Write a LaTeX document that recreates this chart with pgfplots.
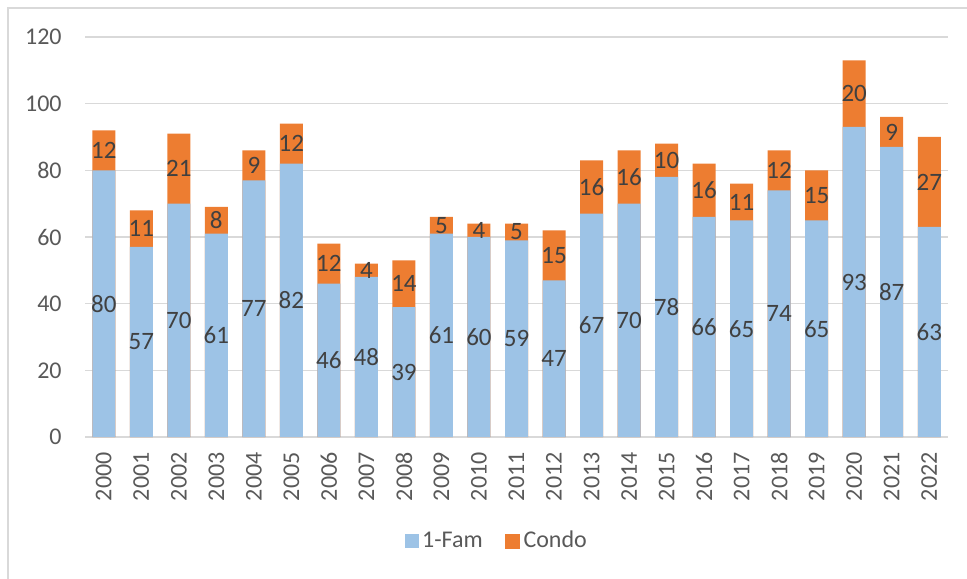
\documentclass[border=0pt]{standalone}
\usepackage{pgfplots}
\pgfplotsset{compat=1.18}
\usepackage{pgfplotstable}
\usepackage{fontspec}
\setmainfont{Carlito}
\definecolor{famblue}{HTML}{9DC3E6}
\definecolor{condoorange}{HTML}{ED7D31}
\definecolor{gridgray}{HTML}{D9D9D9}
\definecolor{ticktext}{HTML}{595959}
\definecolor{labeltext}{HTML}{404040}
\pgfplotstableread{
x year fam condo
0 2000 80 12
1 2001 57 11
2 2002 70 21
3 2003 61 8
4 2004 77 9
5 2005 82 12
6 2006 46 12
7 2007 48 4
8 2008 39 14
9 2009 61 5
10 2010 60 4
11 2011 59 5
12 2012 47 15
13 2013 67 16
14 2014 70 16
15 2015 78 10
16 2016 66 16
17 2017 65 11
18 2018 74 12
19 2019 65 15
20 2020 93 20
21 2021 87 9
22 2022 63 27
}\datatable
\begin{document}
\begin{tikzpicture}
\useasboundingbox (0,0) rectangle (483.5pt,289pt);
\draw[gridgray, line width=0.7pt] (4pt,-20pt) rectangle (520pt,285pt);
\begin{axis}[
  at={(42.5pt,70.5pt)}, anchor=south west,
  scale only axis, width=431.5pt, height=200pt,
  ybar, bar width=11.5pt, bar shift=0pt,
  xmin=-0.5, xmax=22.5, ymin=0, ymax=120,
  ytick={0,20,...,120},
  xtick=data, xticklabels from table={\datatable}{year},
  ymajorgrids, major grid style={gridgray, line width=0.7pt},
  axis line style={draw=none}, major tick length=0pt,
  tick label style={font=\fontsize{12}{14}\selectfont, text=ticktext},
  xticklabel style={rotate=90, anchor=east, inner sep=0pt},
  yticklabel style={anchor=east, inner sep=0pt},
  xticklabel shift=7.5pt, yticklabel shift=11.5pt,
  /pgf/number format/assume math mode=true,
  legend style={at={(0.478,-0.26)}, anchor=center, draw=none, fill=none,
    legend columns=-1, font=\fontsize{12}{14}\selectfont, text=ticktext,
    /tikz/every even column/.append style={column sep=9.5pt},
    nodes={inner sep=1.75pt}},
  legend image code/.code={\fill[#1] (0pt,-3.5pt) rectangle (7pt,3.5pt);},
]
\addplot[fill=condoorange, draw=none, bar shift=0pt, forget plot]
  table[x=x, y expr=\thisrow{fam}+\thisrow{condo}] {\datatable};
\addplot[fill=famblue, draw=none, bar shift=0pt,
  legend image code/.code={\fill[famblue] (0pt,-3.5pt) rectangle (7pt,3.5pt);}]
  table[x=x, y=fam] {\datatable};
\addlegendentry{1-Fam}
\addlegendimage{legend image code/.code={\fill[condoorange] (0pt,-3.5pt) rectangle (7pt,3.5pt);}}
\addlegendentry{Condo}
\addplot[draw=none, fill=none, bar shift=0pt, forget plot,
  nodes near coords, nodes near coords align=center, point meta=explicit,
  every node near coord/.append style={anchor=center, font=\fontsize{12.5}{14}\selectfont, text=labeltext}]
  table[x=x, y expr=\thisrow{fam}/2, meta=fam] {\datatable};
\addplot[draw=none, fill=none, bar shift=0pt, forget plot,
  nodes near coords, nodes near coords align=center, point meta=explicit,
  every node near coord/.append style={anchor=center, font=\fontsize{12.5}{14}\selectfont, text=labeltext}]
  table[x=x, y expr=\thisrow{fam}+\thisrow{condo}/2, meta=condo] {\datatable};
\end{axis}
\end{tikzpicture}
\end{document}
